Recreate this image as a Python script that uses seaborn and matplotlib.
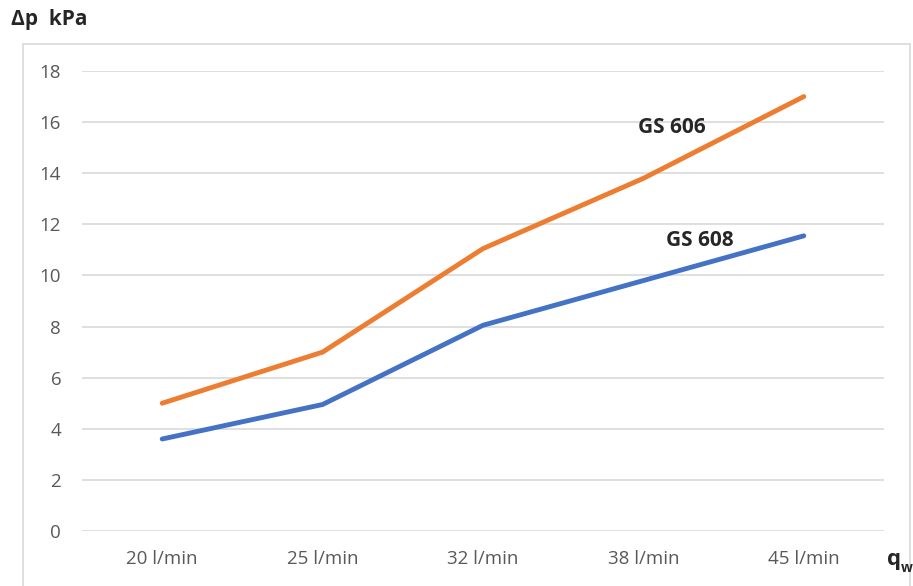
import matplotlib
matplotlib.use("Agg")
import matplotlib.pyplot as plt
import seaborn as sns
import pandas as pd
from matplotlib.patches import Rectangle

# Flow rates and pressure drop for the two valve types
flows = ["20 l/min", "25 l/min", "32 l/min", "38 l/min", "45 l/min"]
gs606 = [5.0, 7.0, 11.05, 13.8, 17.0]
gs608 = [3.6, 4.95, 8.05, 9.8, 11.55]
series_names = ["GS 608", "GS 606"]
y_ticks = [0, 2, 4, 6, 8, 10, 12, 14, 16, 18]

df = pd.DataFrame({
    "flow": flows * 2,
    "dp": gs608 + gs606,
    "type": [series_names[0]] * len(flows) + [series_names[1]] * len(flows),
})
df["pos"] = list(range(len(flows))) * 2

sns.set_theme(style="white")
plt.rcParams["font.family"] = ["Open Sans", "DejaVu Sans"]

W, H = 913, 586
fig = plt.figure(figsize=(W / 100, H / 100), dpi=100)
ax = fig.add_axes([82 / W, (H - 531) / H, (884 - 82) / W, (531 - 71) / H])

# chart-area frame
fig.patches.append(Rectangle((23 / W, -0.02), (910 - 23) / W, (H - 44) / H + 0.02,
                             transform=fig.transFigure, fill=False,
                             edgecolor="#D9D9D9", linewidth=1.2, zorder=0))

palette = {"GS 608": "#4472C4", "GS 606": "#ED7D31"}
sns.lineplot(data=df, x="pos", y="dp", hue="type", palette=palette,
             linewidth=3.5, legend=False, ax=ax, sort=False,
             solid_capstyle="round", solid_joinstyle="round")

ax.set_xlim(-0.5, len(flows) - 0.5)
ax.set_ylim(0, 18)
ax.set_yticks(y_ticks)
ax.set_xticks(range(len(flows)))
ax.set_xticklabels(flows)
ax.yaxis.grid(True, color="#D9D9D9", linewidth=1.2)
ax.set_axisbelow(True)
for s in ax.spines.values():
    s.set_visible(False)
ax.tick_params(axis="both", length=0, colors="#595959", labelsize=13.5)
ax.tick_params(axis="y", pad=15)
ax.tick_params(axis="x", pad=14)
ax.set_xlabel("")
ax.set_ylabel("")

# series labels
ax.text(3.18, 15.77, "GS 606", fontsize=15, fontweight="bold", color="#262626",
        ha="center", va="center")
ax.text(3.35, 11.35, "GS 608", fontsize=15, fontweight="bold", color="#262626",
        ha="center", va="center")

# axis titles
fig.text(11 / W, 1 - 19 / H, "Δp  kPa", fontsize=15, fontweight="bold",
         color="#262626", ha="left", va="center")
fig.text(887 / W, 1 - 560 / H, "q", fontsize=16, fontweight="bold",
         color="#262626", ha="left", va="center")
fig.text(901 / W, 1 - 568 / H, "w", fontsize=10, fontweight="bold",
         color="#262626", ha="left", va="center")

fig.savefig("out.png", dpi=100)
